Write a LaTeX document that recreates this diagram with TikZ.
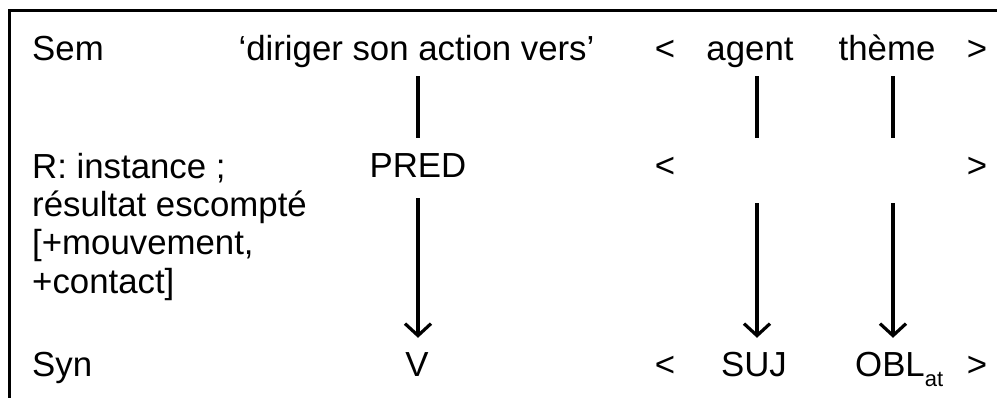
\documentclass[tikz,border=0pt]{standalone}
\usepackage{fontspec}
\setmainfont{Liberation Sans}
\usetikzlibrary{arrows.meta}

\begin{document}
\begin{tikzpicture}[x=1pt,y=-1pt]
            \tikzset{
            sr text/.style={inner sep=0,text height=24pt,text depth=7pt,anchor=base,font=\fontsize{34.8}{38.5}\selectfont},
            sr head/.style={sr text,anchor=base west,align=left},
            sr link/.style={line width=3.2pt,shorten <=8pt,shorten >=16pt},
            sr arrow/.style={line width=3.2pt,shorten <=13pt,shorten >=15pt,-{Straight Barb[length=12pt,width=26pt,line width=3.2pt]}}
            }
            \useasboundingbox (0,0) rectangle (997,398);
            \draw[line width=3pt] (9,405) -- (9,11) -- (1005,11);

            \node[sr head] (sem) at (32,61) {Sem};
            \node[sr text] (dir) at (416.5,61) {‘diriger son action vers’};
            \node[sr text] (lt1) at (665,61) {<};
            \node[sr text] (agent) at (750,61) {agent};
            \node[sr text] (theme) at (887,61) {thème};
            \node[sr text] (gt1) at (977,61) {>};

            % base of a multi-line node is its last line
            \node[sr head,text height=,text depth=] (r) at (32,293.5)
                {R: instance ;\\résultat escompté\\{[}+mouvement,\\+contact]};
            \node[sr text] (pred) at (418,178) {PRED};
            \node[sr text] (lt2) at (665,178) {<};
            \node[sr text] (slota) at (757,178) {};
            \node[sr text] (slotb) at (893,178) {};
            \node[sr text] (gt2) at (977,178) {>};

            \node[sr head] (syn) at (32,377) {Syn};
            \node[sr text] (v) at (417,377) {V};
            \node[sr text] (lt3) at (665,377) {<};
            \node[sr text] (suj) at (754,377) {SUJ};
            \node[sr text,anchor=base west] (obl) at (855,377)
                {OBL{\fontsize{22}{22}\selectfont\raisebox{-10pt}{at}}};
            \node[sr text] (gt3) at (977,377) {>};

            \draw[sr link] (dir.south -| pred) -- (pred.north);
            \draw[sr link] (agent.south -| slota) -- (slota.north);
            \draw[sr link] (theme.south -| slotb) -- (slotb.north);
            \draw[sr arrow] (pred.south) -- (v.north -| pred);
            \draw[sr arrow,shorten <=18pt] (slota.south) -- (suj.north -| slota);
            \draw[sr arrow,shorten <=18pt] (slotb.south) -- (obl.north -| slotb);
        \end{tikzpicture}
\end{document}
